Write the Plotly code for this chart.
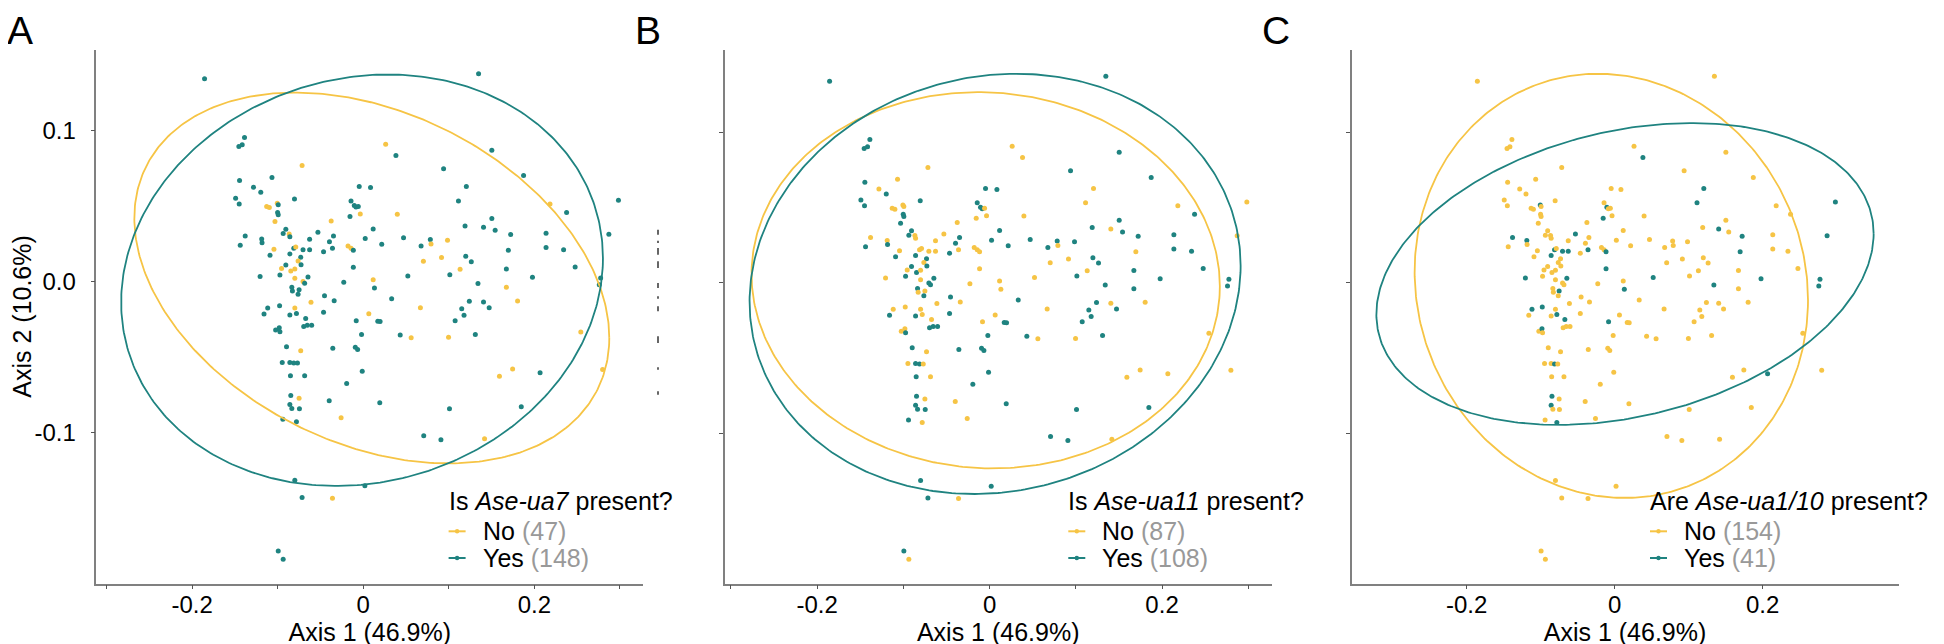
import numpy as np
import plotly.graph_objects as go

# ---------------- data ----------------
axis1 = [-0.1855, -0.1388, -0.1415, -0.1454, -0.0715, -0.1067, -0.1446, -0.1283, -0.1198, -0.1492,
         -0.1450, -0.0804, -0.1129, -0.1098, -0.1005, -0.0994, -0.1001, -0.0994, -0.1032, -0.0375,
         -0.0905, -0.0936, -0.0866, -0.0858, -0.1380, -0.1187, -0.1183, -0.1438, -0.0530, -0.0627,
         -0.0348, -0.0395, -0.1044, -0.0858, -0.0812, -0.0789, -0.0704, -0.0627, -0.0464, -0.0360,
         -0.1090, -0.0731, -0.0762, -0.0905, -0.0955, -0.0847, -0.0800, -0.0727, -0.1206, -0.0974,
         -0.0800, -0.0646, -0.0704, -0.0685, -0.0835, -0.0828, -0.0750, -0.0762, -0.0453, -0.1117,
         -0.0978, -0.0800, -0.0611, -0.1160, -0.0858, -0.0781, -0.0340, -0.0464, -0.0673, -0.0696,
         -0.0654, -0.0603, -0.1024, -0.0982, -0.0974, -0.0897, -0.0356, -0.0731, -0.0947, -0.0858,
         -0.0812, -0.0769, -0.0851, -0.0685, -0.0847, -0.0750, -0.0398, -0.0858, -0.0835, -0.0746,
         -0.0940, -0.0781, -0.0259, -0.0800, -0.0715, -0.0360, 0.0019, -0.0994, -0.0936, 0.1348,
         0.0262, 0.0382, 0.1503, 0.0939, 0.1874, -0.0047, 0.0085, 0.1205, 0.1113, 0.2183,
         0.2983, -0.0143, -0.0105, -0.0085, -0.0058, -0.0035, -0.0155, 0.0398, 0.2377, 0.1503,
         0.1190, 0.1406, 0.1542, 0.1723, 0.0116, 0.2137, 0.2871, 0.0023, 0.0216, 0.0471,
         0.0784, 0.0985, 0.0792, 0.0676, -0.0178, -0.0143, -0.0116, 0.2137, 0.2342, 0.1696,
         0.1198, 0.1263, 0.0703, 0.0915, -0.0116, 0.1132, 0.1673, 0.2477, 0.1012, 0.0521,
         0.1978, 0.2775, 0.2759, -0.0228, 0.0116, 0.0131, 0.1341, 0.1673, 0.0332, 0.0668,
         0.1240, 0.1406, 0.1804, 0.1472, 0.1151, 0.1178, 0.1074, -0.0082, 0.0170, 0.0197,
         0.2543, -0.0020, 0.0432, 0.0560, 0.0997, 0.1310, -0.0093, -0.0066, -0.0012, 0.1746,
         0.1592, 0.2067, 0.2798, -0.0194, 0.0193, 0.1008, 0.1847, 0.0707, 0.0908, 0.1418,
         0.0065]

axis2 = [0.1340, 0.0952, 0.0904, 0.0893, 0.0767, 0.0688, 0.0668, 0.0624, 0.0591, 0.0551,
         0.0513, 0.0546, 0.0496, 0.0489, 0.0518, 0.0507, 0.0456, 0.0441, 0.0397, 0.0401,
         0.0346, 0.0317, 0.0315, 0.0297, 0.0302, 0.0282, 0.0256, 0.0240, 0.0326, 0.0280,
         0.0302, 0.0264, 0.0214, 0.0183, 0.0220, 0.0229, 0.0211, 0.0211, 0.0198, 0.0220,
         0.0174, 0.0161, 0.0136, 0.0110, 0.0086, 0.0070, 0.0084, 0.0112, 0.0033, 0.0044,
         0.0022, 0.0031, 0.0000, -0.0011, -0.0037, -0.0062, -0.0053, -0.0084, -0.0093, -0.0174,
         -0.0159, -0.0174, -0.0137, -0.0214, -0.0220, -0.0210, -0.0126, -0.0203, -0.0243, -0.0297,
         -0.0289, -0.0289, -0.0320, -0.0304, -0.0331, -0.0430, -0.0441, -0.0456, -0.0534, -0.0534,
         -0.0538, -0.0538, -0.0622, -0.0622, -0.0752, -0.0770, -0.0787, -0.0812, -0.0838, -0.0840,
         -0.0909, -0.0926, -0.0900, -0.1312, -0.1427, -0.1431, -0.1349, -0.1779, -0.1834, 0.1373,
         0.0908, 0.0833, 0.0868, 0.0745, 0.0701, 0.0628, 0.0621, 0.0628, 0.0533, 0.0513,
         0.0537, 0.0533, 0.0502, 0.0493, 0.0496, 0.0447, 0.0430, 0.0445, 0.0456, 0.0417,
         0.0368, 0.0359, 0.0339, 0.0311, 0.0348, 0.0320, 0.0313, 0.0284, 0.0247, 0.0289,
         0.0278, 0.0273, 0.0249, 0.0236, 0.0236, 0.0220, 0.0207, 0.0225, 0.0211, 0.0207,
         0.0167, 0.0132, 0.0134, 0.0159, 0.0095, 0.0081, 0.0083, 0.0097, 0.0046, 0.0037,
         0.0028, 0.0024, -0.0020, -0.0005, 0.0013, -0.0042, -0.0013, -0.0038, -0.0113, -0.0172,
         -0.0130, -0.0134, -0.0128, -0.0172, -0.0179, -0.0223, -0.0258, -0.0258, -0.0262, -0.0264,
         -0.0333, -0.0349, -0.0353, -0.0371, -0.0368, -0.0349, -0.0434, -0.0448, -0.0593, -0.0577,
         -0.0626, -0.0602, -0.0580, -0.0673, -0.0801, -0.0840, -0.0827, -0.1019, -0.1045, -0.1038,
         -0.0212]

# 1 = present ("Yes"), 0 = absent ("No")
ua7_present = [1, 1, 1, 1, 0, 1, 1, 1, 1, 1,  1, 1, 0, 0, 0, 1, 1, 1, 0, 0,
               1, 1, 0, 1, 1, 1, 1, 1, 1, 1,  1, 1, 0, 1, 1, 0, 1, 1, 1, 1,
               1, 1, 0, 1, 0, 0, 0, 1, 1, 1,  0, 1, 0, 1, 1, 1, 1, 1, 1, 1,
               1, 0, 0, 1, 1, 1, 1, 1, 1, 1,  1, 1, 1, 1, 1, 1, 1, 0, 1, 1,
               1, 1, 1, 1, 1, 0, 1, 1, 1, 1,  1, 1, 0, 1, 1, 0, 1, 1, 1, 1,
               0, 1, 1, 1, 1, 1, 1, 1, 1, 0,  1, 1, 1, 1, 1, 0, 1, 0, 1, 1,
               1, 1, 1, 1, 1, 1, 1, 1, 1, 1,  1, 0, 0, 1, 0, 0, 1, 1, 1, 1,
               1, 1, 0, 0, 1, 0, 1, 1, 1, 1,  1, 1, 1, 1, 0, 1, 1, 0, 1, 0,
               1, 1, 0, 1, 1, 1, 1, 1, 1, 1,  0, 1, 1, 0, 0, 1, 1, 1, 1, 0,
               0, 1, 0, 1, 1, 1, 1, 1, 1, 0, 0]

ua11_present = [1, 1, 1, 1, 0, 0, 1, 0, 1, 1,  1, 1, 0, 0, 0, 0, 1, 1, 1, 0,
                1, 1, 0, 0, 0, 0, 1, 1, 0, 0,  1, 1, 0, 1, 0, 0, 0, 0, 1, 0,
                1, 1, 0, 1, 0, 1, 0, 1, 0, 1,  0, 1, 1, 1, 1, 0, 0, 1, 1, 0,
                0, 0, 0, 1, 1, 0, 0, 1, 0, 1,  1, 1, 0, 0, 1, 1, 1, 0, 0, 1,
                1, 0, 1, 0, 1, 0, 0, 1, 1, 1,  1, 0, 0, 1, 1, 0, 1, 1, 0, 1,
                0, 0, 1, 1, 1, 1, 1, 0, 0, 0,  0, 1, 1, 1, 0, 0, 0, 0, 1, 1,
                1, 0, 1, 1, 1, 1, 0, 1, 1, 1,  1, 1, 0, 1, 0, 0, 0, 1, 1, 0,
                1, 1, 0, 0, 0, 0, 1, 1, 1, 0,  1, 1, 1, 0, 0, 0, 1, 1, 1, 0,
                1, 0, 0, 1, 1, 1, 1, 0, 1, 1,  0, 1, 1, 0, 0, 1, 1, 1, 1, 0,
                0, 0, 0, 1, 1, 1, 1, 1, 1, 0, 0]

ua1_10_present = [0, 0, 0, 0, 0, 0, 0, 0, 0, 0,  0, 0, 0, 0, 1, 0, 0, 0, 0, 0,
                  0, 0, 0, 0, 1, 1, 0, 0, 1, 0,  0, 0, 0, 1, 1, 0, 1, 1, 0, 1,
                  0, 0, 0, 0, 0, 0, 0, 0, 1, 0,  0, 1, 0, 0, 0, 0, 1, 0, 0, 1,
                  1, 0, 0, 0, 0, 1, 0, 0, 1, 0,  0, 0, 0, 1, 0, 0, 0, 0, 0, 0,
                  1, 0, 0, 0, 1, 0, 0, 1, 0, 0,  0, 1, 0, 0, 0, 0, 0, 0, 0, 0,
                  0, 1, 0, 0, 0, 0, 0, 1, 1, 0,  1, 0, 1, 0, 0, 0, 1, 0, 0, 0,
                  0, 1, 0, 1, 0, 0, 1, 0, 0, 0,  0, 0, 0, 0, 0, 0, 1, 0, 0, 1,
                  0, 0, 0, 0, 1, 0, 0, 0, 0, 1,  1, 1, 1, 0, 0, 1, 1, 0, 0, 0,
                  0, 0, 0, 0, 0, 0, 0, 1, 0, 0,  0, 0, 0, 0, 0, 0, 0, 0, 0, 0,
                  0, 1, 0, 0, 0, 0, 0, 0, 0, 0, 0]

group_labels = ["No", "Yes"]
counts_ua7 = [47, 148]
counts_ua11 = [87, 108]
counts_ua1_10 = [154, 41]

# 95% ellipses: centre x, centre y, sd x, sd y, correlation  ([No, Yes])
ellipse_ua7 = [[0.0100, 0.0024, 0.2776, 0.1225, -0.323], [-0.0014, 0.0009, 0.2816, 0.1359, 0.107]]
ellipse_ua11 = [[-0.0045, 0.0018, 0.2715, 0.1249, -0.032], [0.0064, -0.0006, 0.2847, 0.1395, 0.086]]
ellipse_ua1_10 = [[-0.0045, -0.0019, 0.2658, 0.1408, -0.067], [0.0140, 0.0060, 0.3360, 0.1002, 0.267]]

x_ticks_fine = [-0.3, -0.2, -0.1, 0.0, 0.1, 0.2, 0.3]
x_labels_fine = ["", "-0.2", "", "0", "", "0.2", ""]
x_ticks_coarse = [-0.2, 0.0, 0.2]
x_labels_coarse = ["-0.2", "0", "0.2"]
y_ticks = [-0.1, 0.0, 0.1]
y_labels = ["-0.1", "0.0", "0.1"]

# ---------------- styling / layout ----------------
W, H = 1944, 644
COL = ["#F6C445", "#1F8380"]   # No, Yes
FONT = "Liberation Sans, Arial, Helvetica, sans-serif"
AX_LINE = "#808080"
PLOT_W = 547.0
TOP_PX, BOT_PX = 41.5, 575.5
TXT = 25

panels = [
    dict(groups=ua7_present, ell=ellipse_ua7, counts=counts_ua7, letter="A", left=88.3, letter_x=-2,
         title="Is <i>Ase-ua7</i> present?", leg_left=438.6, xt=(x_ticks_fine, x_labels_fine)),
    dict(groups=ua11_present, ell=ellipse_ua11, counts=counts_ua11, letter="B", left=716.7, letter_x=626,
         title="Is <i>Ase-ua11</i> present?", leg_left=1058.3, xt=(x_ticks_fine, x_labels_fine)),
    dict(groups=ua1_10_present, ell=ellipse_ua1_10, counts=counts_ua1_10, letter="C", left=1343.5, letter_x=1253,
         title="Are <i>Ase-ua1/10</i> present?", leg_left=1640.0, xt=(x_ticks_coarse, x_labels_coarse)),
]

fig = go.Figure()
annotations, shapes, axes = [], [], {}
t = np.linspace(0, 2 * np.pi, 400)
px = np.array(axis1)
py = np.array(axis2)

for i, p in enumerate(panels):
    xa = "x" if i == 0 else f"x{i + 1}"
    ya = "y" if i == 0 else f"y{i + 1}"
    colors = [COL[g] for g in p["groups"]]
    fig.add_trace(go.Scatter(x=axis1, y=axis2, mode="markers", xaxis=xa, yaxis=ya,
                             marker=dict(color=colors, size=5, line=dict(width=0)),
                             showlegend=False, hoverinfo="skip"))
    all_x, all_y = [px], [py]
    for g, (cx, cy, sx, sy, r) in enumerate(p["ell"]):
        ex = cx + sx * np.cos(t)
        ey = cy + sy * (r * np.cos(t) + np.sqrt(1 - r * r) * np.sin(t))
        all_x.append(ex)
        all_y.append(ey)
        fig.add_trace(go.Scatter(x=ex, y=ey, mode="lines", xaxis=xa, yaxis=ya,
                                 line=dict(color=COL[g], width=1.8),
                                 showlegend=False, hoverinfo="skip"))
    ax_ = np.concatenate(all_x)
    ay_ = np.concatenate(all_y)
    xr = [ax_.min() - 0.05 * np.ptp(ax_), ax_.max() + 0.05 * np.ptp(ax_)]
    yr = [ay_.min() - 0.05 * np.ptp(ay_), ay_.max() + 0.05 * np.ptp(ay_)]

    left = p["left"]
    xkey = "xaxis" if i == 0 else f"xaxis{i + 1}"
    ykey = "yaxis" if i == 0 else f"yaxis{i + 1}"
    axes[xkey] = dict(domain=[left / W, (left + PLOT_W) / W], range=xr, anchor=ya,
                      tickvals=p["xt"][0], ticktext=p["xt"][1],
                      ticks="outside", ticklen=4, tickwidth=1.2, tickcolor="#555555",
                      showline=True, linecolor=AX_LINE, linewidth=1.5,
                      showgrid=False, zeroline=False, ticklabelstandoff=-5,
                      tickfont=dict(size=24, color="black", family=FONT),
                      title=dict(text="Axis 1 (46.9%)", standoff=0,
                                 font=dict(size=TXT, color="black", family=FONT)))
    ycfg = dict(domain=[1 - BOT_PX / H, 1 - TOP_PX / H], range=yr, anchor=xa,
                tickvals=y_ticks, ticktext=y_labels,
                ticks="outside", ticklen=4, tickwidth=1.2, tickcolor="#555555",
                showline=True, linecolor=AX_LINE, linewidth=1.5,
                showgrid=False, zeroline=False, ticklabelstandoff=10,
                tickfont=dict(size=24, color="black", family=FONT))
    if i == 0:
        ycfg["title"] = dict(text="Axis 2 (10.6%)", standoff=2,
                             font=dict(size=TXT, color="black", family=FONT))
    else:
        ycfg["showticklabels"] = False
    axes[ykey] = ycfg

    # panel letter
    annotations.append(dict(xref="paper", yref="paper", x=p["letter_x"] / W, y=1.0,
                            text=p["letter"], showarrow=False, xanchor="left", yanchor="top",
                            borderpad=0, font=dict(size=39, color="black", family=FONT)))
    # legend (title + two keyed entries)
    ll = p["leg_left"]
    annotations.append(dict(xref="paper", yref="paper", x=ll / W, y=1 - 493.3 / H,
                            text=p["title"], showarrow=False, xanchor="left", yanchor="middle",
                            font=dict(size=TXT, color="black", family=FONT)))
    for g, ypx in ((0, 523.3), (1, 550.0)):
        yy = 1 - ypx / H
        shapes.append(dict(type="line", xref="paper", yref="paper",
                           x0=(ll + 2) / W, x1=(ll + 19) / W, y0=yy, y1=yy,
                           line=dict(color=COL[g], width=2)))
        shapes.append(dict(type="circle", xref="paper", yref="paper",
                           x0=(ll + 8.3) / W, x1=(ll + 12.7) / W,
                           y0=yy - 2.2 / H, y1=yy + 2.2 / H,
                           fillcolor=COL[g], line=dict(width=0)))
        annotations.append(dict(xref="paper", yref="paper", x=(ll + 34) / W, y=yy,
                                text=f"{group_labels[g]} <span style='color:#999999'>({p['counts'][g]})</span>",
                                showarrow=False, xanchor="left", yanchor="middle",
                                font=dict(size=TXT, color="black", family=FONT)))

# small clipped marks left of panel B in the original figure
for y0, y1 in [(221.7, 226.7), (232.7, 235.0), (240.0, 246.7), (253.3, 260.0), (275.0, 280.0),
               (288.3, 290.7), (298.3, 303.3), (328.3, 335.0), (359.3, 361.7), (383.3, 386.7)]:
    shapes.append(dict(type="line", xref="paper", yref="paper", x0=650 / W, x1=650 / W,
                       y0=1 - y0 / H, y1=1 - y1 / H, line=dict(color="#333333", width=1.5)))

fig.update_layout(width=W, height=H, paper_bgcolor="white", plot_bgcolor="white",
                  margin=dict(l=0, r=0, t=0, b=0, pad=0, autoexpand=False),
                  showlegend=False, hovermode=False,
                  annotations=annotations, shapes=shapes, **axes)

fig.write_html("out.html")
